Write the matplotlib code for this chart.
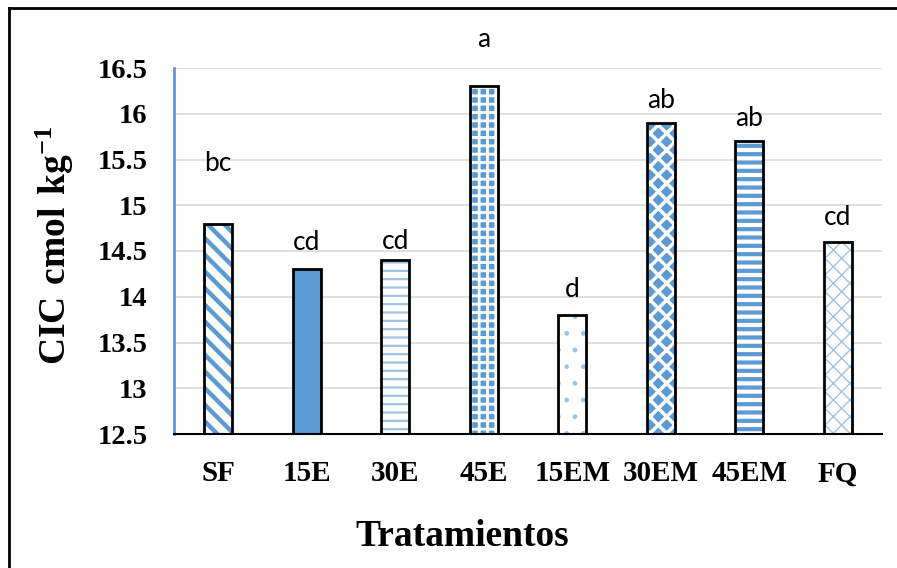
import matplotlib
matplotlib.use("Agg")
import matplotlib.pyplot as plt
from matplotlib.lines import Line2D

# Data
tratamientos = ["SF", "15E", "30E", "45E", "15EM", "30EM", "45EM", "FQ"]
cic = [14.8, 14.3, 14.4, 16.3, 13.8, 15.9, 15.7, 14.6]
letras = ["bc", "cd", "cd", "a", "d", "ab", "ab", "cd"]
yticks = [12.5, 13, 13.5, 14, 14.5, 15, 15.5, 16, 16.5]

# baseline height of each significance letter (axis units)
letra_y = [15.37, 14.51, 14.52, 16.73, 14.0, 16.06, 15.87, 14.78]

BLUE = "#5B9BD5"
LIGHT = "#9DC3E6"

plt.rcParams["mathtext.fontset"] = "custom"
plt.rcParams["mathtext.rm"] = "Liberation Serif"
plt.rcParams["mathtext.bf"] = "Liberation Serif:bold"

# fill style per bar: (facecolor, hatchcolor, hatch, hatch linewidth)
styles = [
    ("white", BLUE, "\\\\", 3.2),
    (BLUE, BLUE, None, 1.0),
    ("white", LIGHT, "--", 1.6),
    (BLUE, "white", "++", 2.0),
    ("white", LIGHT, ".", 1.0),
    (BLUE, "white", "xx", 2.5),
    ("white", BLUE, "--", 3.0),
    ("white", LIGHT, "xx", 1.0),
]

fig = plt.figure(figsize=(8.97, 5.68), dpi=100)
ax = fig.add_axes([174 / 897, 1 - 434 / 568, (882 - 174) / 897, (434 - 68) / 568])

x = list(range(len(tratamientos)))
width = 0.32
for i, (v, st) in enumerate(zip(cic, styles)):
    fc, hc, hatch, hlw = st
    plt.rcParams["hatch.linewidth"] = hlw
    ax.bar(x[i], v - 12.5, bottom=12.5, width=width, facecolor=fc,
           edgecolor=hc, hatch=hatch, linewidth=0, zorder=2)
    ax.bar(x[i], v - 12.5, bottom=12.5, width=width, fill=False,
           edgecolor="black", linewidth=2, zorder=3)
    ax.text(x[i], letra_y[i], letras[i], ha="center", va="baseline",
            fontsize=19, family="Lato", color="black")

ax.set_xlim(-0.5, 7.5)
ax.set_ylim(12.5, 16.5)
ax.set_yticks(yticks)
ax.set_yticklabels([f"{t:g}" for t in yticks])
ax.set_xticks(x)
ax.set_xticklabels(tratamientos)
for lab in ax.get_xticklabels() + ax.get_yticklabels():
    lab.set_family("Liberation Serif")
    lab.set_fontweight("bold")
ax.tick_params(axis="y", length=0, pad=19, labelsize=20.5)
ax.tick_params(axis="x", length=0, pad=19, labelsize=21)

ax.grid(axis="y", color="#D9D9D9", linewidth=1.2, zorder=0)
ax.set_axisbelow(True)
for s in ["top", "right"]:
    ax.spines[s].set_visible(False)
ax.spines["left"].set_color(BLUE)
ax.spines["left"].set_linewidth(2)
ax.spines["bottom"].set_color("black")
ax.spines["bottom"].set_linewidth(1.5)

fig.text(55 / 897, 1 - 246 / 568, r"$\mathbf{CIC\ cmol\ kg^{-1}}$", rotation=90,
         ha="center", va="center", fontsize=27)
fig.text(462 / 897, 1 - 536 / 568, "Tratamientos", ha="center", va="center",
         fontsize=27, fontweight="bold", family="Liberation Serif")

# outer chart frame
fig.add_artist(Line2D([9 / 897, 9 / 897], [0, 1 - 8 / 568], color="black",
                      linewidth=2, transform=fig.transFigure))
fig.add_artist(Line2D([9 / 897, 1], [1 - 8 / 568, 1 - 8 / 568], color="black",
                      linewidth=2, transform=fig.transFigure))

fig.savefig("out.png", dpi=100, facecolor="white")
